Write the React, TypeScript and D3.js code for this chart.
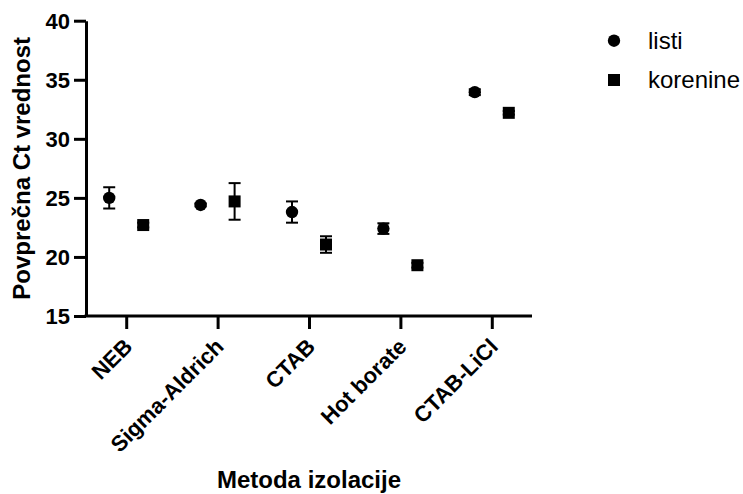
import React, { useRef, useEffect } from 'react';
import * as d3 from 'd3';

const categories = ['NEB', 'Sigma-Aldrich', 'CTAB', 'Hot borate', 'CTAB-LiCl'];
const seriesNames = ['listi', 'korenine'];
const listiMean = [25.0, 24.4, 23.8, 22.4, 33.95];
const listiErr = [0.9, 0.12, 0.9, 0.45, 0.25];
const koreninMean = [22.7, 24.7, 21.05, 19.3, 32.2];
const koreninErr = [0.2, 1.55, 0.7, 0.2, 0.15];
const yTicks = [15, 20, 25, 30, 35, 40];

const FONT = '"Liberation Sans", Arial, Helvetica, sans-serif';

const App = () => {
  const chartRef = useRef<SVGSVGElement>(null);

  useEffect(() => {
    drawChart();
  }, []);

  const drawChart = () => {
    const width = 743;
    const height = 494;
    const left = 86;
    const right = 532;
    const top = 20.7;
    const bottom = 316;

    const svg = d3.select(chartRef.current);
    svg.selectAll('*').remove();

    const x = d3.scalePoint<string>().domain(categories).range([left, right]).padding(0.44);
    const dodge = d3.scalePoint<string>().domain(seriesNames).range([-17, 17]);
    const y = d3.scaleLinear().domain([15, 40]).range([bottom, top]);

    const series = [
      { name: 'listi', mean: listiMean, err: listiErr },
      { name: 'korenine', mean: koreninMean, err: koreninErr },
    ];

    // axes
    const yAxis = svg
      .append('g')
      .attr('transform', `translate(${left},0)`)
      .call(d3.axisLeft(y).tickValues(yTicks).tickSize(12).tickPadding(4).tickSizeOuter(0));
    yAxis.select('.domain').attr('stroke', '#000').attr('stroke-width', 3);
    yAxis.selectAll('.tick line').attr('stroke', '#000').attr('stroke-width', 3);
    yAxis
      .selectAll('.tick text')
      .attr('font-family', FONT)
      .attr('font-size', 22)
      .attr('font-weight', 'bold')
      .attr('fill', '#000')
      .attr('dy', '0.36em');

    const xAxis = svg
      .append('g')
      .attr('transform', `translate(0,${bottom})`)
      .call(d3.axisBottom(x).tickSize(13).tickSizeOuter(0));
    xAxis.select('.domain').attr('stroke', '#000').attr('stroke-width', 3).attr('d', `M${left - 1.5},0H${right}`);
    xAxis.selectAll('.tick line').attr('stroke', '#000').attr('stroke-width', 3);
    xAxis
      .selectAll('.tick text')
      .attr('font-family', FONT)
      .attr('font-size', 22)
      .attr('font-weight', 'bold')
      .attr('fill', '#000')
      .attr('text-anchor', 'end')
      .attr('transform', 'translate(7,32) rotate(-45)')
      .attr('y', 0)
      .attr('dy', 0);

    // error bars + markers
    series.forEach((s) => {
      const g = svg.append('g');
      const cx = (i: number) => (x(categories[i]) as number) + (dodge(s.name) as number);
      const pts = categories.map((c, i) => i);
      g.selectAll('line.err')
        .data(pts)
        .enter()
        .append('line')
        .attr('x1', (i) => cx(i))
        .attr('x2', (i) => cx(i))
        .attr('y1', (i) => y(s.mean[i] - s.err[i]))
        .attr('y2', (i) => y(s.mean[i] + s.err[i]))
        .attr('stroke', '#000')
        .attr('stroke-width', 2);
      [1, -1].forEach((sign) => {
        g.selectAll(`line.cap${sign}`)
          .data(pts)
          .enter()
          .append('line')
          .attr('x1', (i) => cx(i) - 6)
          .attr('x2', (i) => cx(i) + 6)
          .attr('y1', (i) => y(s.mean[i] + sign * s.err[i]))
          .attr('y2', (i) => y(s.mean[i] + sign * s.err[i]))
          .attr('stroke', '#000')
          .attr('stroke-width', 2);
      });
      if (s.name === 'listi') {
        g.selectAll('circle')
          .data(pts)
          .enter()
          .append('circle')
          .attr('cx', (i) => cx(i))
          .attr('cy', (i) => y(s.mean[i]))
          .attr('r', 6.2)
          .attr('fill', '#000');
      } else {
        g.selectAll('rect')
          .data(pts)
          .enter()
          .append('rect')
          .attr('x', (i) => cx(i) - 6)
          .attr('y', (i) => y(s.mean[i]) - 6)
          .attr('width', 12)
          .attr('height', 12)
          .attr('fill', '#000');
      }
    });

    // axis titles
    svg
      .append('text')
      .attr('transform', `translate(30,${(top + bottom) / 2}) rotate(-90)`)
      .attr('text-anchor', 'middle')
      .attr('font-family', FONT)
      .attr('font-size', 24)
      .attr('font-weight', 'bold')
      .text('Povprečna Ct vrednost');

    svg
      .append('text')
      .attr('x', (left + right) / 2)
      .attr('y', 488)
      .attr('text-anchor', 'middle')
      .attr('font-family', FONT)
      .attr('font-size', 24)
      .attr('font-weight', 'bold')
      .text('Metoda izolacije');

    // legend
    const legend = svg.append('g').attr('transform', 'translate(614,0)');
    legend.append('circle').attr('cx', 0).attr('cy', 40.7).attr('r', 6.2).attr('fill', '#000');
    legend.append('rect').attr('x', -6).attr('y', 74).attr('width', 12).attr('height', 12).attr('fill', '#000');
    legend
      .selectAll('text')
      .data(seriesNames)
      .enter()
      .append('text')
      .attr('x', 34)
      .attr('y', (d, i) => 48.5 + i * 39.5)
      .attr('font-family', FONT)
      .attr('font-size', 24)
      .attr('fill', '#000')
      .text((d) => d);

    svg.attr('width', width).attr('height', height);
  };

  return (
    <svg
      ref={chartRef}
      width={743}
      height={494}
      style={{ position: 'absolute', left: 0, top: 0, background: '#fff' }}
    />
  );
};

export default App;
